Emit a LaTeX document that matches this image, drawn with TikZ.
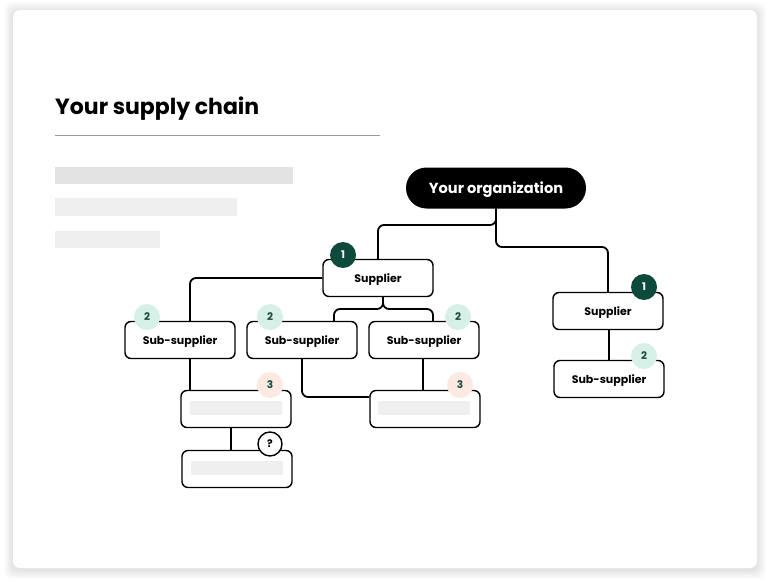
\documentclass[tikz,border=0pt]{standalone}
\usepackage{fontspec}
\setmainfont{Poppins}
\definecolor{badgedark}{HTML}{0E4A3C}
\definecolor{badgemint}{HTML}{D6F0E7}
\definecolor{badgepink}{HTML}{FBE9E2}
\definecolor{badgetext}{HTML}{1D4A3E}
\definecolor{barmid}{HTML}{E3E3E3}
\definecolor{barlight}{HTML}{EFEFEF}
\definecolor{rulegray}{HTML}{9A9A9A}
\begin{document}
\begin{tikzpicture}[x=1pt,y=1pt,yscale=-1,xscale=1,
	box/.style={draw=black, line width=1.4pt, rounded corners=6pt, fill=white, minimum width=110pt, minimum height=37pt, inner sep=0pt, text height=0.85em, text depth=0pt, font=\fontsize{11}{13}\selectfont\bfseries},
	pill/.style={fill=black, text=white, rounded corners=20.5pt, minimum width=180pt, minimum height=41pt, inner sep=0pt, text height=1.0em, text depth=0pt, font=\fontsize{14.6}{17}\selectfont\bfseries},
	link/.style={line width=1.8pt, rounded corners=6pt},
	badge/.style={circle, minimum size=26pt, inner sep=0pt, font=\fontsize{10.5}{12}\selectfont\bfseries},
	first/.style={badge, fill=badgedark, text=white},
	second/.style={badge, fill=badgemint, text=badgetext},
	third/.style={badge, fill=badgepink, text=badgetext},
	unknown/.style={badge, fill=white, draw=black, line width=1.4pt, minimum size=24pt}]
	\useasboundingbox (0,0) rectangle (768,583);
	
	%Shape: Card with soft shadow
	\foreach \s in {1,...,9}
		\fill [black, opacity=0.012, rounded corners=8pt] (13-\s,11-\s) rectangle (757+\s,570+\s);
	\fill [white, rounded corners=7pt] (13,10) rectangle (757,568);
	
	% Text Node
	\node [anchor=base west, inner sep=0pt, font=\fontsize{22}{26}\selectfont\bfseries] (title) at (55,114) {Your supply chain};
	%Straight Lines
	\draw [rulegray, line width=0.9pt] (55,135) -- (380,135);
	%Shape: placeholder bars
	\fill [barmid] (55,167) rectangle (293,184);
	\fill [barlight] (55,198) rectangle (237,216);
	\fill [barlight] (55,231) rectangle (160,248);
	
	% Nodes of the chain
	\node [pill] (org) at (496,188) {Your organization};
	\node [box] (sup1) at (378,278) {Supplier};
	\node [box] (supR) at (608,311) {Supplier};
	\node [box] (subA) at (180,340) {Sub-supplier};
	\node [box] (subB) at (302,340) {Sub-supplier};
	\node [box] (subC) at (424,340) {Sub-supplier};
	\node [box] (subR) at (609,379) {Sub-supplier};
	\node [box] (tierE) at (236,409) {};
	\node [box] (tierD) at (425,409) {};
	\node [box] (tierF) at (237,469) {};
	\fill [barlight] (190,401) rectangle (282,415);
	\fill [barlight] (378,401) rectangle (470,415);
	\fill [barlight] (191,461) rectangle (283,475);
	
	% Connectors
	\draw [link] (org.south) -- (496,225) -| (sup1.north);
	\draw [link] (org.south) -- (496,247) -| (supR.north);
	\draw [link] (sup1.west) -| (subA.north -| 190,0);
	\draw [link] (sup1.south -| 383,0) -- (383,309) -| (subB.north -| 334,0);
	\draw [link] (sup1.south -| 383,0) -- (383,309) -| (subC.north -| 433,0);
	\draw [link] (subA.south -| 190,0) -- (tierE.north -| 190,0);
	\draw [link] (subB.south) |- (tierD.west |- 0,397);
	\draw [link] (subC.south -| 423,0) -- (tierD.north -| 423,0);
	\draw [link] (tierE.south -| 231,0) -- (tierF.north -| 231,0);
	\draw [link] (supR.south -| 609,0) -- (subR.north -| 609,0);
	
	% Badges
	\node [first] (b1) at (343,255) {1};
	\node [first] (b1R) at (644,287) {1};
	\node [second] (b2A) at (147,317) {2};
	\node [second] (b2B) at (270,317) {2};
	\node [second] (b2C) at (458,317) {2};
	\node [second] (b2R) at (644,356) {2};
	\node [third] (b3E) at (270,385) {3};
	\node [third] (b3D) at (460,385) {3};
	\node [unknown] (bq) at (270,444) {?};
	
\end{tikzpicture}
\end{document}
